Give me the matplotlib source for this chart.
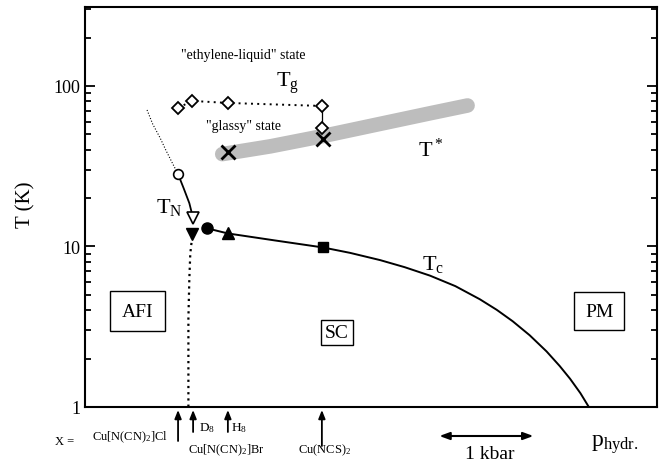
import matplotlib
matplotlib.use("Agg")
import matplotlib.pyplot as plt
from matplotlib.ticker import LogLocator, NullFormatter, FixedLocator, FixedFormatter

plt.rcParams['font.family'] = ['Liberation Serif', 'DejaVu Serif']
plt.rcParams['mathtext.fontset'] = 'custom'
plt.rcParams['mathtext.rm'] = 'Liberation Serif'
plt.rcParams['mathtext.it'] = 'Liberation Serif:italic'

# ---------------- data (pressure in kbar from left edge, T in K) ----------------
compound_labels = ['Cu[N(CN)$_2$]Cl', 'D$_8$', 'H$_8$', 'Cu(NCS)$_2$']
compound_p = [0.99, 1.15, 1.52, 2.52]

# T_N line: dotted extrapolation, solid part, dotted vertical continuation
tn_dot_p = [0.66, 0.72, 0.80, 0.86, 0.93, 0.99]
tn_dot_T = [70.8, 57.9, 47.3, 39.8, 33.0, 28.2]
tn_sol_p = [0.99, 1.05, 1.11, 1.15]
tn_sol_T = [28.2, 23.0, 18.6, 15.0]
tn_low_p = [1.14, 1.12, 1.11, 1.10, 1.10, 1.10]
tn_low_T = [11.5, 9.0, 6.31, 3.55, 2.0, 1.0]

# T_N markers
tn_circle = (0.99, 28.2)
tn_open_tri = (1.15, 15.0)

# T_c markers and line
tc_fdown = (1.14, 11.9)
tc_fcircle = (1.30, 12.96)
tc_ftri = (1.52, 12.05)
tc_fsquare = (2.53, 9.86)
tc_p = [1.30, 1.52, 2.02, 2.53, 2.82, 3.14, 3.40, 3.67, 3.94, 4.20, 4.38,
        4.55, 4.73, 4.91, 5.05, 5.16, 5.27, 5.36]
tc_T = [12.96, 12.05, 10.9, 9.86, 9.12, 8.22, 7.43, 6.58, 5.66, 4.69, 4.03,
        3.42, 2.80, 2.22, 1.80, 1.50, 1.22, 1.0]

# T_g (diamonds)
tg_p = [0.99, 1.14, 1.52, 2.52]
tg_T = [72.9, 80.6, 78.3, 75.0]
tg_ncs_p = [2.52, 2.52]
tg_ncs_T = [75.0, 54.6]

# T* crosses and broad band
tstar_p = [1.52, 2.53]
tstar_T = [38.7, 46.7]
band_p = [1.46, 1.97, 2.53, 3.14, 3.67, 4.07]
band_T = [37.6, 42.0, 48.7, 58.0, 67.5, 75.5]

# ---------------- figure ----------------
W, H = 665, 464
fig = plt.figure(figsize=(W / 100, H / 100), dpi=100)
L, R, T0, B = 85, 657, 8, 408
ax = fig.add_axes([L / W, 1 - B / H, (R - L) / W, (B - T0) / H])
ax.set_xlim(0, (R - L) / 94.0)
ax.set_yscale('log')
ax.set_ylim(1, 310)

for s in ax.spines.values():
    s.set_linewidth(1.5)

ax.yaxis.set_major_locator(FixedLocator([1, 10, 100]))
ax.yaxis.set_major_formatter(FixedFormatter(['1', '10', '100']))
ax.yaxis.set_minor_locator(LogLocator(base=10, subs=range(2, 10)))
ax.yaxis.set_minor_formatter(NullFormatter())
ax.tick_params(axis='y', which='both', direction='in', left=True, right=True,
               labelsize=13, width=1.3)
ax.tick_params(axis='y', which='major', length=7)
ax.tick_params(axis='y', which='minor', length=4)
ax.tick_params(axis='x', which='both', bottom=False, top=False, labelbottom=False)
ax.set_ylabel('T (K)', fontsize=15)
ax.yaxis.set_label_coords(-(L - 35) / (R - L), (B - 205) / (B - T0))

# band for T*
ax.plot(band_p, band_T, color='#bdbdbd', lw=10.5, solid_capstyle='round',
        solid_joinstyle='round', zorder=1)

# T_N lines
ax.plot(tn_dot_p, tn_dot_T, color='black', lw=0.8, ls=(0, (1, 1.6)), zorder=2)
ax.plot(tn_sol_p, tn_sol_T, color='black', lw=1.3, zorder=2)
ax.plot(tn_low_p, tn_low_T, color='black', lw=1.6, ls=(0, (1, 1.8)), zorder=2)

# T_c line
ax.plot(tc_p, tc_T, color='black', lw=1.4, solid_joinstyle='round', zorder=2)

# T_g lines
ax.plot(tg_p, tg_T, color='black', lw=1.4, ls=(0, (1, 2.2)), zorder=2)
ax.plot(tg_ncs_p, tg_ncs_T, color='black', lw=0.9, zorder=2)

# markers
ax.plot(*tn_circle, marker='o', ms=7, mfc='white', mec='black', mew=1.2, zorder=4)
ax.plot(*tn_open_tri, marker='v', ms=9, mfc='white', mec='black', mew=1.2, zorder=4)
ax.plot(*tc_fdown, marker='v', ms=9, color='black', zorder=4)
ax.plot(*tc_fcircle, marker='o', ms=8, color='black', zorder=4)
ax.plot(*tc_ftri, marker='^', ms=9, color='black', zorder=4)
ax.plot(*tc_fsquare, marker='s', ms=7, color='black', zorder=4)
ax.plot(tg_p + tg_ncs_p[1:], tg_T + tg_ncs_T[1:], ls='none', marker='D', ms=6,
        mfc='white', mec='black', mew=1.3, zorder=4)
ax.plot(tstar_p, tstar_T, ls='none', marker='x', ms=10, mew=2, color='black', zorder=4)

# labels inside plot
ax.text(1.68, 156, '"ethylene-liquid" state', fontsize=10, ha='center', va='center')
ax.text(1.69, 57.0, '"glassy" state', fontsize=10, ha='center', va='center')
ax.text(2.03, 100.0, r'T$_\mathrm{g}$', fontsize=16, ha='left', va='baseline')
ax.text(3.54, 39.8 * 0.92, r'T$^*$', fontsize=16, ha='left', va='baseline')
ax.text(0.76, 16.5, r'T$_\mathrm{N}$', fontsize=16, ha='left', va='baseline')
ax.text(3.59, 7.2, r'T$_\mathrm{c}$', fontsize=16, ha='left', va='baseline')

box = dict(boxstyle='square', fc='white', ec='black', lw=1.0)
ax.text(0.56, 3.95, 'AFI', fontsize=14, ha='center', va='center',
        bbox=dict(box, pad=0.6))
ax.text(2.68, 2.90, 'SC', fontsize=14, ha='center', va='center',
        bbox=dict(box, pad=0.2))
ax.text(5.47, 3.95, 'PM', fontsize=14, ha='center', va='center',
        bbox=dict(box, pad=0.55))

# below-axis annotations
tr = ax.get_xaxis_transform()
def yf(px):
    return (B - px) / (B - T0)

arrow_start = [442, 433, 433, 447]
for p, y0 in zip(compound_p, arrow_start):
    ax.annotate('', xy=(p, yf(411)), xytext=(p, yf(y0)), xycoords=tr, textcoords=tr,
                arrowprops=dict(arrowstyle='-|>,head_length=0.5,head_width=0.2',
                                color='black', lw=1.3, shrinkA=0, shrinkB=0),
                annotation_clip=False)

ax.text(-0.32, yf(442), 'X =', transform=tr, fontsize=9, ha='left', va='center', clip_on=False)
ax.text(compound_p[0] - 0.11, yf(437), compound_labels[0], transform=tr, fontsize=9,
        ha='right', va='center', clip_on=False)
ax.text(compound_p[1] + 0.06, yf(428), compound_labels[1], transform=tr, fontsize=9.5,
        ha='left', va='center', clip_on=False)
ax.text(compound_p[2] + 0.03, yf(428), compound_labels[2], transform=tr, fontsize=9.5,
        ha='left', va='center', clip_on=False)
ax.text(compound_p[2] - 0.02, yf(450), 'Cu[N(CN)$_2$]Br', transform=tr, fontsize=9,
        ha='center', va='center', clip_on=False)
ax.text(compound_p[3] + 0.03, yf(450), compound_labels[3], transform=tr, fontsize=9,
        ha='center', va='center', clip_on=False)

kbar_start = 3.77
kbar_len = 1.0
ax.annotate('', xy=(kbar_start + kbar_len, yf(437)), xytext=(kbar_start, yf(437)),
            xycoords=tr, textcoords=tr,
            arrowprops=dict(arrowstyle='<|-|>,head_length=0.6,head_width=0.22',
                            color='black', lw=1.5, shrinkA=0, shrinkB=0),
            annotation_clip=False)
ax.text(kbar_start + kbar_len / 2 + 0.04, yf(455), '1 kbar', transform=tr, fontsize=14,
        ha='center', va='center', clip_on=False)
ax.text(5.38, yf(447), r'p$_\mathrm{hydr.}$', transform=tr, fontsize=17,
        ha='left', va='baseline', clip_on=False)

fig.savefig('out.png', dpi=100)
